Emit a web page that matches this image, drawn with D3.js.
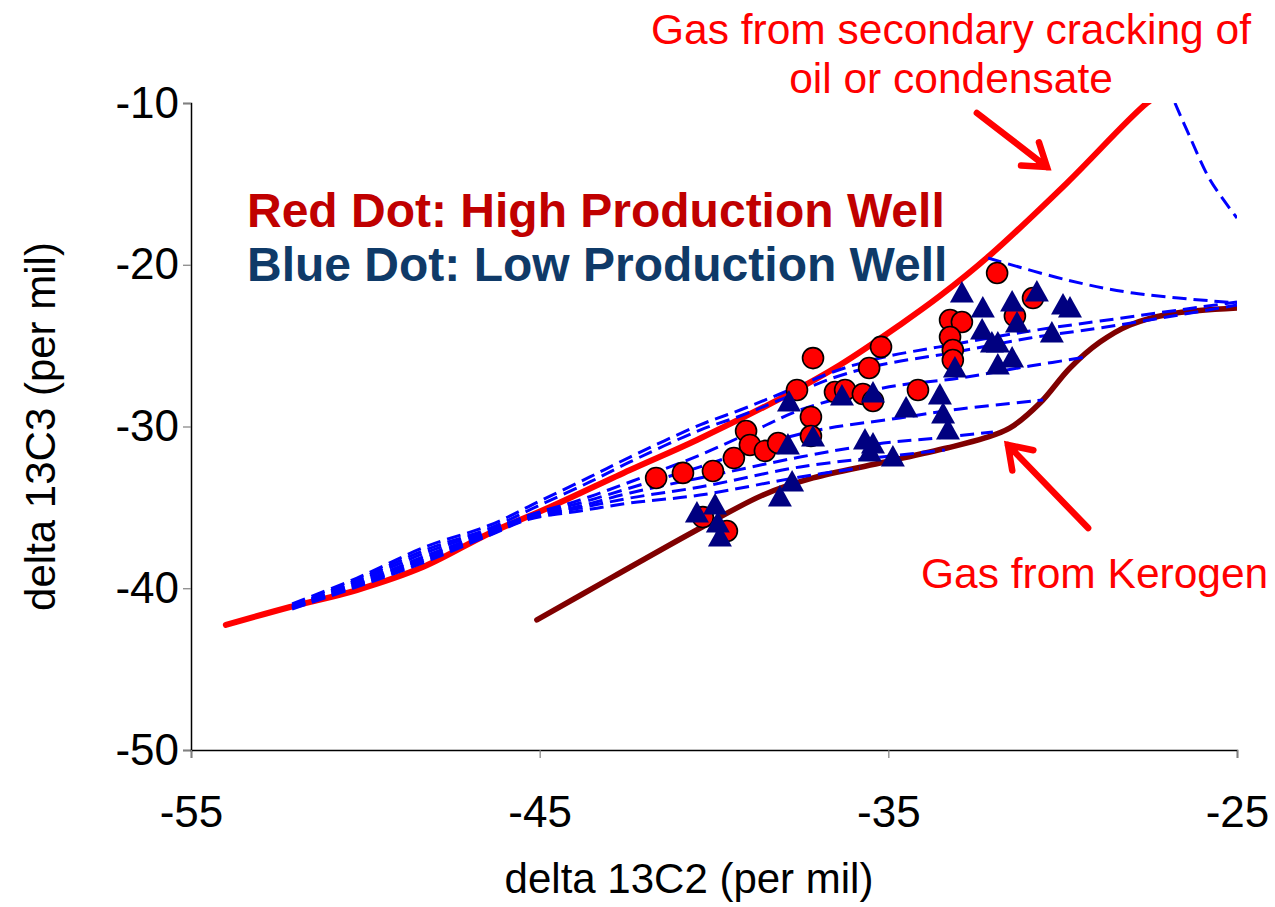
<!DOCTYPE html>
<html>
<head>
<meta charset="utf-8">
<script src="https://cdn.jsdelivr.net/npm/d3@7"></script>
<style>
  body { margin: 0; background: #fff; }
  svg text { font-family: "Liberation Sans", Arial, sans-serif; }
</style>
</head>
<body>
<svg id="chart" width="1275" height="907"></svg>
<script>
// Axis ticks.
var xTicks = [-55, -45, -35, -25];
var yTicks = [-50, -40, -30, -20, -10];

// Red dots: high production wells [d13C2, d13C3].
var highWells = [
  [-41.66, -33.18], [-40.89, -32.87], [-40.03, -32.75], [-39.43, -31.95],
  [-39.08, -30.28], [-38.97, -31.14], [-38.54, -31.51], [-38.16, -31.02],
  [-37.62, -27.74], [-37.16, -25.77], [-37.22, -29.41], [-37.22, -30.59],
  [-40.32, -35.60], [-39.63, -36.46], [-36.53, -27.87], [-36.24, -27.74],
  [-35.73, -27.99], [-35.44, -28.42], [-35.55, -26.38], [-35.21, -25.08],
  [-34.15, -27.74], [-33.23, -23.42], [-32.89, -23.54], [-33.23, -24.47],
  [-33.15, -25.27], [-33.15, -25.89], [-31.88, -20.51], [-31.37, -23.17],
  [-30.85, -22.06]
];

// Blue triangles: low production wells [d13C2, d13C3].
var lowWells = [
  [-40.49, -35.35], [-39.97, -34.85], [-39.89, -35.97], [-39.83, -36.83],
  [-37.85, -28.49], [-37.88, -31.14], [-37.76, -33.43], [-38.11, -34.36],
  [-36.33, -28.11], [-35.44, -27.93], [-34.49, -28.86], [-37.16, -30.65],
  [-35.67, -30.83], [-35.44, -31.08], [-35.53, -31.58], [-34.87, -31.89],
  [-33.52, -28.05], [-33.43, -29.23], [-33.29, -30.22], [-33.09, -26.38],
  [-32.89, -21.75], [-32.29, -22.67], [-31.45, -22.30], [-30.74, -21.68],
  [-29.99, -22.49], [-29.79, -22.67], [-32.31, -24.03], [-32.03, -24.84],
  [-31.86, -24.84], [-31.86, -26.20], [-31.45, -25.77], [-31.31, -23.60],
  [-30.31, -24.22]
];

// Gas from secondary cracking of oil or condensate.
var crackingCurve = [
  [-54.0, -42.27], [-52.16, -41.16], [-50.24, -40.11], [-48.35, -38.69],
  [-46.42, -36.58], [-44.70, -34.98], [-42.41, -32.69], [-40.49, -30.83],
  [-38.02, -28.18], [-36.39, -26.20], [-34.67, -23.72], [-33.52, -21.93],
  [-32.08, -19.40], [-29.88, -14.95], [-27.58, -10.0], [-27.0, -9.2]
];

// Gas from kerogen.
var kerogenCurve = [
  [-45.08, -41.96], [-42.90, -39.30], [-40.60, -36.52], [-38.59, -34.23],
  [-37.16, -33.18], [-35.24, -32.26], [-33.32, -31.33], [-32.23, -30.71],
  [-31.51, -30.09], [-30.65, -28.55], [-29.79, -26.38], [-28.93, -24.78],
  [-28.07, -23.72], [-26.92, -23.04], [-25.0, -22.67]
];

// Mixing lines (blue dashed).
var mixingLines = [
  [[-52.10, -40.97], [-50.24, -39.37], [-48.29, -37.45], [-46.42, -36.09],
   [-44.99, -34.60], [-43.56, -33.12], [-42.41, -31.89], [-40.40, -29.90],
   [-39.25, -28.98], [-38.11, -27.99], [-36.59, -26.63], [-35.24, -25.77],
   [-33.23, -24.96], [-30.94, -24.10], [-28.93, -23.48], [-25.0, -22.30]],
  [[-52.10, -41.10], [-50.24, -39.49], [-48.29, -37.64], [-46.42, -36.28],
   [-44.99, -34.85], [-43.56, -33.43], [-42.41, -32.19], [-40.40, -30.22],
   [-39.25, -29.35], [-38.11, -28.36], [-36.59, -27.00], [-35.24, -26.20],
   [-33.23, -25.46], [-30.94, -24.53], [-28.93, -23.91], [-25.0, -22.49]],
  [[-52.10, -41.16], [-50.24, -39.61], [-48.29, -37.82], [-46.42, -36.40],
   [-45.28, -35.47], [-43.84, -34.54], [-42.41, -33.43], [-40.40, -31.76],
   [-38.68, -30.09], [-37.53, -28.98], [-35.15, -27.62], [-32.94, -27.00],
   [-30.94, -26.26], [-29.30, -25.70]],
  [[-52.10, -41.16], [-50.24, -39.74], [-48.29, -38.01], [-46.42, -36.52],
   [-45.28, -35.53], [-43.84, -34.73], [-42.41, -33.80], [-40.40, -32.50],
   [-37.53, -30.46], [-34.67, -29.47], [-32.94, -28.92], [-30.56, -28.36]],
  [[-52.10, -41.22], [-50.24, -39.80], [-48.29, -38.13], [-46.42, -36.58],
   [-45.28, -35.60], [-43.84, -34.92], [-42.41, -34.11], [-40.40, -33.18],
   [-37.53, -31.89], [-35.33, -31.08], [-33.60, -30.71], [-32.00, -30.34]],
  [[-52.10, -41.22], [-50.24, -39.86], [-48.29, -38.25], [-46.42, -36.65],
   [-45.28, -35.66], [-43.84, -35.04], [-42.41, -34.42], [-40.40, -33.74],
   [-37.53, -32.50], [-34.67, -31.76], [-33.38, -31.45]],
  [[-52.10, -41.28], [-50.24, -39.92], [-48.29, -38.38], [-46.42, -36.71],
   [-45.28, -35.72], [-43.84, -35.22], [-42.41, -34.73], [-40.40, -34.24],
   [-37.53, -33.12], [-35.81, -32.57]],
  [[-32.14, -19.58], [-29.88, -20.94], [-27.98, -21.75], [-25.0, -22.36]],
  [[-26.78, -10.0], [-26.35, -12.10], [-25.77, -14.76], [-25.0, -17.11]]
];

// Annotation arrows [tail, tip].
var arrows = [
  [[-32.46, -10.62], [-30.45, -13.96]],
  [[-29.27, -36.28], [-31.57, -31.14]]
];

var svg = d3.select('#chart');
var x = d3.scaleLinear().domain([-55, -25]).range([191, 1237]);
var y = d3.scaleLinear().domain([-50, -10]).range([750, 103]);

svg.append('defs').append('clipPath').attr('id', 'plotClip')
    .append('rect')
    .attr('x', x(-55)).attr('y', y(-10))
    .attr('width', x(-25) - x(-55)).attr('height', y(-50) - y(-10));

var line = d3.line()
    .x(function(d) { return x(d[0]); })
    .y(function(d) { return y(d[1]); })
    .curve(d3.curveCatmullRom);

// Plain hyphen for negative tick labels, as in the original.
var fmt = function(d) { return String(d); };

// Axes.
var yAxis = svg.append('g')
    .attr('transform', 'translate(' + x(-55) + ',0)')
    .call(d3.axisLeft(y).tickValues(yTicks).tickSize(8).tickPadding(4)
        .tickFormat(fmt));
var xAxis = svg.append('g')
    .attr('transform', 'translate(0,' + y(-50) + ')')
    .call(d3.axisBottom(x).tickValues(xTicks).tickSize(8).tickPadding(38)
        .tickFormat(fmt));
[xAxis, yAxis].forEach(function(ax) {
  ax.select('.domain').attr('stroke', '#000').attr('stroke-width', 1.5);
  ax.selectAll('.tick line').attr('stroke', '#808080').attr('stroke-width', 1.2);
  ax.selectAll('.tick text').attr('fill', '#000')
      .style('font-size', '44px')
      .style('font-family', '"Liberation Sans", Arial, sans-serif');
});

svg.append('text')
    .attr('x', (x(-55) + x(-25)) / 2 - 25).attr('y', 893)
    .attr('text-anchor', 'middle')
    .style('font-size', '42px')
    .text('delta 13C2 (per mil)');
svg.append('text')
    .attr('transform', 'translate(55,' + y(-30) + ') rotate(-90)')
    .attr('text-anchor', 'middle')
    .style('font-size', '42px')
    .text('delta 13C3 (per mil)');

var plot = svg.append('g').attr('clip-path', 'url(#plotClip)');

plot.append('path').datum(crackingCurve)
    .attr('d', line).attr('fill', 'none')
    .attr('stroke', '#FF0000').attr('stroke-width', 6)
    .attr('stroke-linecap', 'round');
plot.append('path').datum(kerogenCurve)
    .attr('d', line).attr('fill', 'none')
    .attr('stroke', '#800000').attr('stroke-width', 5.5)
    .attr('stroke-linecap', 'round');

plot.selectAll('.mix').data(mixingLines).enter().append('path')
    .attr('class', 'mix')
    .attr('d', line).attr('fill', 'none')
    .attr('stroke', '#0000FF').attr('stroke-width', 3)
    .attr('stroke-dasharray', '14,7');

svg.selectAll('.high').data(highWells).enter().append('circle')
    .attr('class', 'high')
    .attr('cx', function(d) { return x(d[0]); })
    .attr('cy', function(d) { return y(d[1]); })
    .attr('r', 10.5)
    .attr('fill', '#FF0000').attr('stroke', '#000').attr('stroke-width', 1.6);

svg.selectAll('.low').data(lowWells).enter().append('path')
    .attr('class', 'low')
    .attr('d', function(d) {
      var cx = x(d[0]), cy = y(d[1]);
      return 'M' + cx + ',' + (cy - 12) + 'L' + (cx + 12) + ',' + (cy + 9.5) +
          'L' + (cx - 12) + ',' + (cy + 9.5) + 'Z';
    })
    .attr('fill', '#000080');

// Arrows.
arrows.forEach(function(a) {
  var x0 = x(a[0][0]), y0 = y(a[0][1]), x1 = x(a[1][0]), y1 = y(a[1][1]);
  var ang = Math.atan2(y1 - y0, x1 - x0);
  var len = 26, spread = 0.6;
  var hx1 = x1 - len * Math.cos(ang - spread), hy1 = y1 - len * Math.sin(ang - spread);
  var hx2 = x1 - len * Math.cos(ang + spread), hy2 = y1 - len * Math.sin(ang + spread);
  svg.append('path')
      .attr('d', 'M' + x0 + ',' + y0 + 'L' + x1 + ',' + y1 +
          'M' + hx1 + ',' + hy1 + 'L' + x1 + ',' + y1 + 'L' + hx2 + ',' + hy2)
      .attr('fill', 'none').attr('stroke', '#FF0000').attr('stroke-width', 6.5)
      .attr('stroke-linecap', 'round').attr('stroke-linejoin', 'miter');
});

// Annotations.
svg.append('text').attr('x', 951).attr('y', 44).attr('text-anchor', 'middle')
    .attr('fill', '#FF0000').style('font-size', '42.5px')
    .text('Gas from secondary cracking of');
svg.append('text').attr('x', 951).attr('y', 93).attr('text-anchor', 'middle')
    .attr('fill', '#FF0000').style('font-size', '42.5px')
    .text('oil or condensate');
svg.append('text').attr('x', 921).attr('y', 588)
    .attr('fill', '#FF0000').style('font-size', '42.5px')
    .text('Gas from Kerogen');
svg.append('text').attr('x', 247).attr('y', 227)
    .attr('fill', '#C00000').style('font-size', '48px').style('font-weight', 'bold')
    .text('Red Dot: High Production Well');
svg.append('text').attr('x', 247).attr('y', 281)
    .attr('fill', '#0F3A68').style('font-size', '48px').style('font-weight', 'bold')
    .text('Blue Dot: Low Production Well');
</script>
</body>
</html>
